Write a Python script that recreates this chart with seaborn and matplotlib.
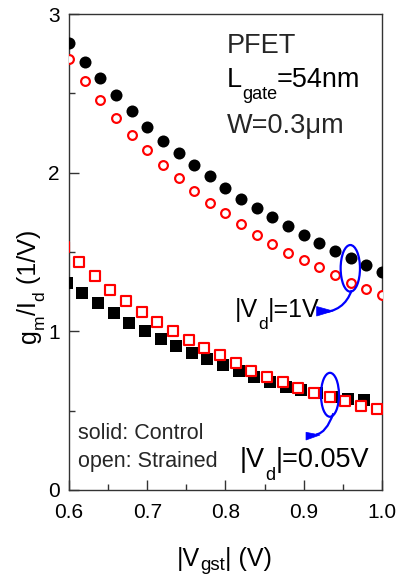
import numpy as np
import pandas as pd
import matplotlib
matplotlib.use("Agg")
import matplotlib.pyplot as plt
import seaborn as sns
from matplotlib.patches import Ellipse, Polygon, PathPatch
from matplotlib.path import Path
from matplotlib.ticker import MultipleLocator

# ---------------- data ----------------
vgst_circ = [0.60, 0.62, 0.64, 0.66, 0.68, 0.70, 0.72, 0.74, 0.76, 0.78, 0.80,
             0.82, 0.84, 0.86, 0.88, 0.90, 0.92, 0.94, 0.96, 0.98, 1.00]
gm_control_1V = [2.82, 2.70, 2.594, 2.491, 2.388, 2.289, 2.199, 2.122, 2.048, 1.977, 1.901,
                 1.834, 1.777, 1.718, 1.664, 1.607, 1.555, 1.506, 1.460, 1.418, 1.376]
gm_strained_1V = [2.714, 2.579, 2.457, 2.344, 2.237, 2.142, 2.048, 1.964, 1.886, 1.81, 1.743,
                  1.674, 1.607, 1.548, 1.495, 1.449, 1.403, 1.355, 1.306, 1.265, 1.227]

vgst_sq_control = [0.597, 0.617, 0.637, 0.657, 0.677, 0.697, 0.717, 0.737, 0.757, 0.777,
                   0.797, 0.817, 0.837, 0.857, 0.877, 0.897, 0.917, 0.937, 0.957, 0.977]
gm_control_005V = [1.306, 1.239, 1.176, 1.113, 1.054, 1.004, 0.951, 0.907, 0.861, 0.826,
                   0.790, 0.752, 0.714, 0.678, 0.651, 0.630, 0.609, 0.588, 0.571, 0.567]

vgst_sq_strained = [0.594, 0.613, 0.633, 0.653, 0.673, 0.693, 0.713, 0.733, 0.753, 0.773, 0.793,
                    0.813, 0.833, 0.853, 0.873, 0.893, 0.913, 0.933, 0.953, 0.973, 0.993]
gm_strained_005V = [1.53, 1.439, 1.348, 1.260, 1.191, 1.124, 1.061, 1.002, 0.945, 0.893, 0.848,
                    0.798, 0.752, 0.710, 0.679, 0.645, 0.613, 0.584, 0.561, 0.531, 0.509]

x_ticks = [0.6, 0.7, 0.8, 0.9, 1.0]
y_ticks = [0, 1, 2, 3]

# ---------------- style ----------------
sns.set_theme(style="ticks")
plt.rcParams["font.family"] = ["Liberation Sans", "DejaVu Sans"]
plt.rcParams["axes.unicode_minus"] = False

fig = plt.figure(figsize=(3.99, 5.77), dpi=100)
ax = fig.add_axes([0.1729, 0.1508, 0.7845, 0.8249])

RED = "#ff0000"
BLUE = "#0000ff"

sns.scatterplot(x=vgst_circ, y=gm_control_1V, ax=ax, marker="o", s=75,
                color="black", edgecolor="black", linewidth=0, zorder=3)
sns.scatterplot(x=vgst_circ, y=gm_strained_1V, ax=ax, marker="o", s=40,
                color="white", edgecolor=RED, linewidth=1.55, zorder=3)
sns.scatterplot(x=vgst_sq_control, y=gm_control_005V, ax=ax, marker="s", s=68,
                color="black", edgecolor="black", linewidth=0, zorder=3)
sns.scatterplot(x=vgst_sq_strained, y=gm_strained_005V, ax=ax, marker="s", s=48,
                color="white", edgecolor=RED, linewidth=1.55, zorder=4)

ax.set_xlim(0.6, 1.0)
ax.set_ylim(0, 3)
ax.set_xticks(x_ticks)
ax.set_yticks(y_ticks)
ax.xaxis.set_minor_locator(MultipleLocator(0.05))
ax.yaxis.set_minor_locator(MultipleLocator(0.5))
ax.tick_params(which="both", direction="in", top=False, right=False,
               color="#333333", width=1.0)
ax.tick_params(which="major", length=7.5, labelsize=15, labelcolor="black")
ax.tick_params(axis="y", which="major", pad=6.5)
ax.tick_params(axis="x", which="major", pad=9.5)
ax.tick_params(which="minor", length=4)
for sp in ax.spines.values():
    sp.set_linewidth(1.0)
    sp.set_color("#333333")
ax.set_xlabel("")
ax.set_ylabel("")

# ---------------- text helpers (subscripts) ----------------
DESC = 0.21


def chain_h(x, y, pieces, transform):
    txt, fs, off = pieces[0]
    prev = ax.text(x, y, txt, transform=transform, fontsize=fs, ha="left",
                   va="baseline", color="black", clip_on=False)
    pfs, poff = fs, off
    for txt, fs, off in pieces[1:]:
        dy = (off - poff) + DESC * pfs - DESC * fs
        prev = ax.annotate(txt, xy=(1, 0), xycoords=prev, xytext=(0, dy),
                           textcoords="offset points", fontsize=fs, ha="left",
                           va="bottom", color="black")
        pfs, poff = fs, off


def chain_v(x, y, pieces, transform):
    txt, fs, off = pieces[0]
    prev = ax.text(x, y, txt, transform=transform, fontsize=fs, ha="left",
                   va="baseline", rotation=90, rotation_mode="anchor",
                   color="black", clip_on=False)
    pfs, poff = fs, off
    for txt, fs, off in pieces[1:]:
        dx = -(off - poff) + DESC * fs - DESC * pfs
        prev = ax.annotate(txt, xy=(1, 1), xycoords=prev, xytext=(dx, 0),
                           textcoords="offset points", fontsize=fs, ha="right",
                           va="bottom", rotation=90, color="black")
        pfs, poff = fs, off


# annotation block
ax.text(0.504, 0.919, "PFET", transform=ax.transAxes, fontsize=19.5,
        ha="left", va="baseline")
chain_h(0.504, 0.846, [("L", 19.5, 0), ("gate", 13, -8), ("=54nm", 19.5, 0)], ax.transAxes)
ax.text(0.504, 0.749, "W=0.3μm", transform=ax.transAxes, fontsize=19.5,
        ha="left", va="baseline")

chain_h(0.812, 1.092, [("|V", 18, 0), ("d", 12.5, -8.4), ("|=1V", 18, 0)], ax.transData)
chain_h(0.8185, 0.147, [("|V", 19.5, 0), ("d", 13, -9.5), ("|=0.05V", 19.5, 0)], ax.transData)

ax.text(0.03, 0.1065, "solid: Control", transform=ax.transAxes, fontsize=15.5,
        ha="left", va="baseline")
ax.text(0.03, 0.049, "open: Strained", transform=ax.transAxes, fontsize=15.5,
        ha="left", va="baseline")

# axis labels
chain_h(176.7 / 399, (577 - 566) / 577,
        [("|V", 18, 0), ("gst", 13.5, -3), ("| (V)", 18, 0)], fig.transFigure)
chain_v(36 / 399, (577 - 343) / 577,
        [("g", 18, 0), ("m", 12.5, -5.5), ("/I", 18, 0), ("d", 12.5, -5.5),
         (" (1/V)", 18, 0)], fig.transFigure)

# blue ellipses and curved arrows
ax.add_patch(Ellipse((0.9595, 1.397), 0.0247, 0.294, fill=False,
                     edgecolor=BLUE, linewidth=1.6, zorder=5))
ax.add_patch(Ellipse((0.9335, 0.600), 0.023, 0.277, fill=False,
                     edgecolor=BLUE, linewidth=1.6, zorder=5))

curve1 = Path([(0.9613, 1.2602), (0.9516, 1.1207), (0.9208, 1.1185)],
              [Path.MOVETO, Path.CURVE3, Path.CURVE3])
curve2 = Path([(0.9378, 0.4833), (0.9289, 0.3585), (0.9157, 0.3497)],
              [Path.MOVETO, Path.CURVE3, Path.CURVE3])
for c in (curve1, curve2):
    ax.add_patch(PathPatch(c, fill=False, edgecolor=BLUE, linewidth=1.6,
                           zorder=5, clip_on=False))
ax.add_patch(Polygon([(0.9165, 1.1563), (0.9165, 1.0964), (0.9374, 1.1279)],
                     closed=True, facecolor=BLUE, edgecolor=BLUE, lw=0.5,
                     zorder=5, clip_on=False))
ax.add_patch(Polygon([(0.9029, 0.3636), (0.9029, 0.3151), (0.9208, 0.3466)],
                     closed=True, facecolor=BLUE, edgecolor=BLUE, lw=0.5,
                     zorder=5, clip_on=False))

fig.savefig("out.png", dpi=100)
